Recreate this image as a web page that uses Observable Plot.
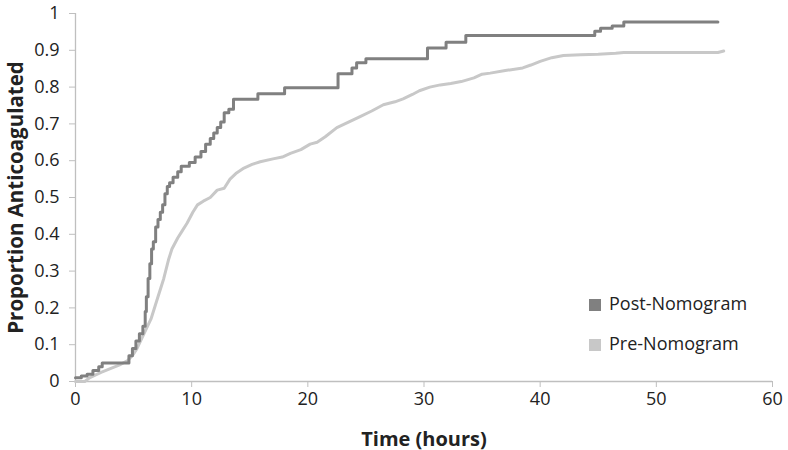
<!DOCTYPE html>
<html><head><meta charset="utf-8">
<script src="https://cdn.jsdelivr.net/npm/d3@7"></script>
<script src="https://cdn.jsdelivr.net/npm/@observablehq/plot@0.6"></script>
<style>
body{margin:0;background:#fff;}
#chart{position:relative;width:788px;height:450px;font-family:"Open Sans",sans-serif;}
#chart svg{overflow:visible}
g[aria-label="x-axis label"] text{font-weight:bold;font-size:20px;}
g[aria-label="y-axis label"] text{font-weight:bold;font-size:20.5px;}
.legend{position:absolute;left:589px;top:283px;font-size:18px;color:#222;line-height:40px;}
.legend .sw{display:inline-block;width:12px;height:12px;margin-right:8px;vertical-align:-1px;}
</style></head>
<body><div id="chart"></div>
<script>
// Post-Nomogram (step curve): time in hours, proportion anticoagulated
const postTime = [0,0.5,1.0,1.5,2.0,2.3,4.6,4.9,5.2,5.5,5.8,6.0,6.1,6.25,6.4,6.55,6.7,6.9,7.1,7.3,7.5,7.7,7.9,8.1,8.4,8.8,9.1,9.8,10.3,10.8,11.2,11.6,11.9,12.2,12.5,12.8,13.2,13.6,15.7,18.0,22.6,23.8,24.2,25.0,30.3,31.9,33.6,44.7,45.2,46.2,47.2,55.3];
const postProp = [0.01,0.015,0.02,0.03,0.04,0.05,0.07,0.09,0.11,0.13,0.15,0.19,0.23,0.28,0.32,0.36,0.38,0.42,0.44,0.46,0.48,0.51,0.53,0.54,0.555,0.57,0.585,0.595,0.61,0.625,0.645,0.66,0.675,0.69,0.705,0.73,0.74,0.767,0.782,0.798,0.836,0.852,0.866,0.877,0.906,0.922,0.94,0.952,0.96,0.966,0.977,0.977];
// Pre-Nomogram
const preTime = [0,0.8,1.2,1.6,2.2,3.0,3.8,4.5,5.0,5.3,5.9,6.5,7.0,7.3,7.6,8.0,8.3,8.8,9.2,9.6,10.1,10.5,11.0,11.6,12.2,12.8,13.3,13.8,14.5,15.2,15.9,17.0,17.8,18.5,19.4,20.2,20.8,21.5,22.5,23.5,24.5,25.5,26.5,27.5,28.2,29.0,29.6,30.5,31.4,32.3,33.2,34.3,35.0,35.7,37.0,38.5,39.2,40.0,41.0,42.0,43.5,45.0,46.5,47.2,55.3,55.8];
const preProp = [0,0,0.01,0.016,0.025,0.035,0.045,0.057,0.075,0.09,0.13,0.17,0.22,0.25,0.28,0.33,0.36,0.39,0.41,0.43,0.46,0.48,0.49,0.50,0.52,0.525,0.55,0.565,0.58,0.59,0.597,0.605,0.61,0.62,0.63,0.645,0.65,0.665,0.69,0.705,0.72,0.735,0.752,0.76,0.768,0.78,0.79,0.80,0.806,0.81,0.815,0.825,0.835,0.838,0.845,0.852,0.86,0.87,0.88,0.886,0.888,0.889,0.892,0.894,0.894,0.898];
const seriesNames = ["Post-Nomogram","Pre-Nomogram"];
const seriesColors = ["#808080","#c8c8c8"];
const xTicks = [0,10,20,30,40,50,60];
const yTicks = [0,0.1,0.2,0.3,0.4,0.5,0.6,0.7,0.8,0.9,1];
const yTickLabels = ["0","0.1","0.2","0.3","0.4","0.5","0.6","0.7","0.8","0.9","1"];

const post = postTime.map((t,i)=>({t, p: postProp[i]}));
const pre = preTime.map((t,i)=>({t, p: preProp[i]}));

const plot = Plot.plot({
  width: 788, height: 450,
  marginLeft: 75, marginRight: 16, marginTop: 13, marginBottom: 69,
  style: {fontFamily: '"Open Sans", sans-serif', fontSize: "18px", color: "#222", background: "#fff"},
  x: {domain: [0,60]},
  y: {domain: [0,1]},
  marks: [
    Plot.ruleY([0], {stroke: "#bfbfbf", strokeWidth: 1.3}),
    Plot.ruleX([0], {stroke: "#bfbfbf", strokeWidth: 1.3}),
    Plot.axisX({ticks: xTicks, tickSize: 6, tickPadding: 5, stroke: "#bfbfbf", fill: "#222",
      label: "Time (hours)", labelAnchor: "center", labelOffset: 64, labelArrow: "none"}),
    Plot.axisY({ticks: yTicks, tickFormat: (d)=>yTickLabels[yTicks.indexOf(d)], tickSize: 6, tickPadding: 10,
      stroke: "#bfbfbf", fill: "#222",
      label: "Proportion Anticoagulated", labelAnchor: "center", labelOffset: 67, labelArrow: "none"}),
    Plot.line(pre, {x: "t", y: "p", stroke: seriesColors[1], strokeWidth: 3, curve: "linear"}),
    Plot.line(post, {x: "t", y: "p", stroke: seriesColors[0], strokeWidth: 3, curve: "step-after"})
  ]
});
const chart = document.getElementById("chart");
chart.appendChild(plot);
const leg = document.createElement("div");
leg.className = "legend";
seriesNames.forEach((n,i)=>{
  const row = document.createElement("div");
  const sw = document.createElement("span");
  sw.className = "sw"; sw.style.background = seriesColors[i];
  row.appendChild(sw); row.appendChild(document.createTextNode(n));
  leg.appendChild(row);
});
chart.appendChild(leg);
</script></body></html>
